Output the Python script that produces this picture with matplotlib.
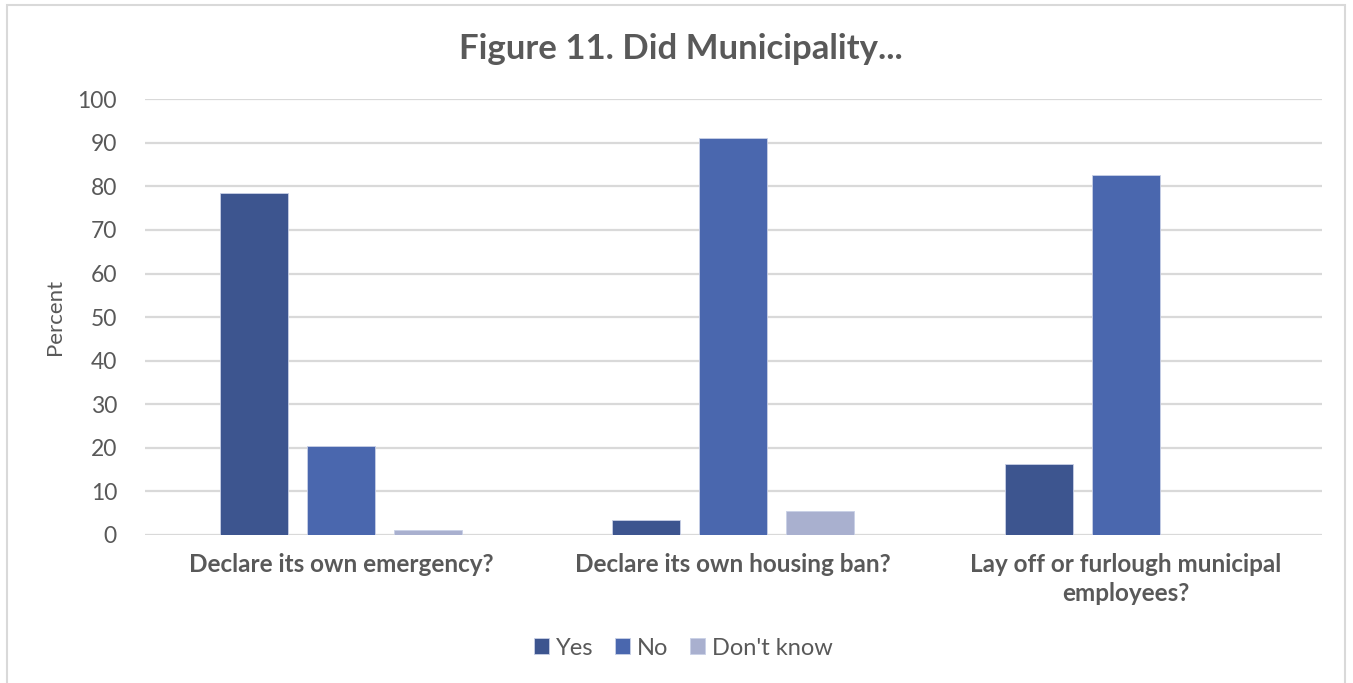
import matplotlib
matplotlib.use("Agg")
import matplotlib.pyplot as plt
import numpy as np
from matplotlib.patches import Rectangle

categories = ["Declare its own emergency?", "Declare its own housing ban?",
              "Lay off or furlough municipal\nemployees?"]
series_names = ["Yes", "No", "Don't know"]
yes_vals = [78.4, 3.4, 16.4]
no_vals = [20.4, 91.0, 82.7]
dont_know_vals = [1.1, 5.5, 0.0]
colors = ["#3D558F", "#4A67AE", "#A9B0CF"]

plt.rcParams['font.family'] = ['Lato', 'DejaVu Sans']
text_color = "#595959"

fig = plt.figure(figsize=(13.53, 6.83), dpi=100)
ax = fig.add_axes([0.107, 0.2167, 0.870, 0.638])

x = np.arange(len(categories))
width = 0.173
step = 0.222
for i, (vals, name, c) in enumerate(zip([yes_vals, no_vals, dont_know_vals], series_names, colors)):
    ax.bar(x + (i - 1) * step, vals, width, color=c, label=name,
           edgecolor="#C9D0E6", linewidth=0.6, zorder=3)

ax.set_xlim(-0.5, 2.5)
ax.set_ylim(0, 100)
ax.set_yticks(range(0, 101, 10))
ax.yaxis.grid(True, color="#D9D9D9", linewidth=1.6, zorder=0)
ax.set_axisbelow(True)
for s in ax.spines.values():
    s.set_visible(False)
ax.tick_params(axis="both", length=0, colors=text_color)
ax.tick_params(axis="y", labelsize=16.5, pad=20)
ax.set_xticks(x)
ax.set_xticklabels(categories, fontsize=17.5, fontweight="bold", color=text_color,
                   linespacing=1.3)
ax.tick_params(axis="x", pad=13)
ax.set_ylabel("Percent", fontsize=16, color=text_color, labelpad=9)

fig.text(0.503, 0.928, "Figure 11. Did Municipality...", ha="center", va="center",
         fontsize=25, fontweight="bold", color=text_color)

leg = fig.legend(loc="center", bbox_to_anchor=(0.505, 0.051), ncol=3, frameon=False,
                 fontsize=17, handlelength=0.65, handleheight=0.65, handletextpad=0.3,
                 columnspacing=0.9, labelcolor=text_color)

fig.patches.append(Rectangle((0.005, -0.01), 0.989, 1.003, transform=fig.transFigure,
                             fill=False, edgecolor="#D9D9D9", linewidth=1.5))

fig.savefig("out.png", dpi=100, facecolor="white")
